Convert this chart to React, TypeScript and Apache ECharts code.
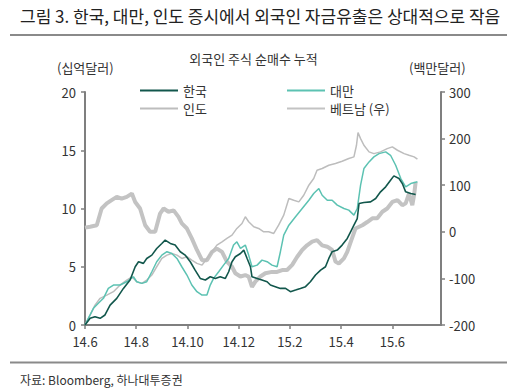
import React, { useEffect, useRef } from "react";
import * as echarts from "echarts";

// x = months since Jun 2014 (0 = 14.6)
const xTickLabels = ["14.6", "14.8", "14.10", "14.12", "15.2", "15.4", "15.6"];

const korea: [number, number][] = [
  [0, 0], [0.2, 0.57], [0.39, 0.71], [0.59, 0.57], [0.78, 0.86], [0.98, 1.71], [1.24, 2.29], [1.5, 3.14],
  [1.76, 3.86], [1.96, 5.0], [2.09, 5.43], [2.28, 5.29], [2.41, 5.71], [2.61, 6.0], [2.8, 6.57], [3.0, 7.0],
  [3.13, 7.29], [3.33, 7.0], [3.52, 6.86], [3.72, 6.29], [3.91, 6.0], [4.11, 5.43], [4.3, 4.71], [4.5, 4.0],
  [4.7, 3.86], [4.89, 4.14], [5.09, 4.0], [5.28, 4.14], [5.48, 4.0], [5.61, 4.57], [5.74, 5.43], [5.87, 5.86],
  [6.07, 6.14], [6.2, 6.43], [6.33, 5.71], [6.46, 5.0], [6.52, 4.14], [6.72, 4.0], [6.91, 3.86], [7.11, 3.71],
  [7.24, 3.43], [7.43, 3.29], [7.63, 3.14], [7.83, 3.14], [8.02, 2.86], [8.22, 3.0], [8.41, 3.14], [8.61, 3.29],
  [8.8, 3.71], [9.0, 4.29], [9.2, 4.71], [9.39, 5.0], [9.52, 5.71], [9.65, 6.29], [9.85, 6.43], [10.04, 6.86],
  [10.24, 7.43], [10.37, 8.0], [10.5, 8.57], [10.63, 9.14], [10.7, 10.43], [10.89, 10.51], [11.15, 10.57],
  [11.35, 10.86], [11.54, 11.43], [11.74, 11.86], [11.93, 12.43], [12.06, 12.8], [12.26, 12.57], [12.39, 12.14],
  [12.52, 11.43], [12.72, 11.29], [12.91, 11.2],
];

const taiwan: [number, number][] = [
  [0, 0], [0.13, 0.57], [0.33, 1.43], [0.52, 1.86], [0.72, 2.29], [0.91, 3.14], [1.11, 3.43], [1.37, 3.43],
  [1.63, 3.71], [1.89, 4.14], [2.02, 3.71], [2.22, 3.57], [2.41, 3.71], [2.61, 4.57], [2.8, 5.43], [3.0, 6.0],
  [3.2, 6.29], [3.39, 6.14], [3.59, 5.71], [3.78, 5.0], [3.98, 4.29], [4.17, 3.43], [4.37, 2.86], [4.57, 2.57],
  [4.76, 2.57], [4.89, 3.43], [5.02, 4.0], [5.22, 4.57], [5.41, 5.14], [5.61, 5.71], [5.8, 6.86], [5.93, 7.14],
  [6.07, 6.57], [6.26, 6.86], [6.39, 6.0], [6.52, 5.0], [6.72, 5.14], [6.91, 5.57], [7.11, 5.43], [7.3, 5.14],
  [7.5, 5.0], [7.63, 6.29], [7.76, 7.71], [7.96, 8.57], [8.22, 9.29], [8.48, 10.0], [8.74, 10.71], [8.93, 11.29],
  [9.13, 11.71], [9.26, 11.14], [9.46, 10.71], [9.65, 10.71], [9.85, 10.29], [10.11, 10.0], [10.3, 9.86],
  [10.5, 9.43], [10.63, 10.0], [10.76, 12.0], [10.89, 13.43], [11.09, 14.0], [11.28, 14.43], [11.48, 14.71],
  [11.74, 14.86], [11.93, 14.57], [12.13, 13.71], [12.33, 12.57], [12.52, 11.86], [12.72, 12.14], [12.98, 12.29],
];

const india: [number, number][] = [
  [0, 0], [0.2, 0.86], [0.39, 1.71], [0.59, 2.29], [0.85, 2.57], [1.11, 2.86], [1.37, 3.43], [1.63, 3.86],
  [1.83, 4.14], [2.02, 3.71], [2.22, 3.57], [2.41, 3.86], [2.61, 4.29], [2.8, 5.0], [3.0, 5.71], [3.2, 6.0],
  [3.39, 6.14], [3.59, 6.0], [3.78, 5.71], [3.98, 5.86], [4.17, 5.57], [4.37, 5.29], [4.57, 5.14], [4.76, 5.71],
  [4.96, 6.29], [5.15, 6.86], [5.35, 7.14], [5.54, 7.43], [5.74, 7.71], [5.93, 8.29], [6.13, 8.71], [6.26, 9.29],
  [6.39, 8.86], [6.59, 8.43], [6.78, 8.29], [6.98, 8.0], [7.17, 8.0], [7.37, 7.86], [7.56, 8.57], [7.76, 9.43],
  [7.96, 10.86], [8.15, 10.71], [8.35, 10.57], [8.54, 11.14], [8.74, 12.0], [8.93, 12.57], [9.06, 13.29],
  [9.26, 13.43], [9.52, 13.71], [9.78, 13.86], [10.04, 14.06], [10.3, 14.29], [10.5, 14.43], [10.6, 15.43],
  [10.66, 16.51], [10.76, 16.0], [10.89, 15.43], [11.09, 14.86], [11.28, 14.71], [11.54, 14.86], [11.8, 15.14],
  [12.0, 15.29], [12.2, 15.0], [12.46, 14.71], [12.65, 14.57], [12.85, 14.43], [12.98, 14.23],
];

const vietnam: [number, number][] = [
  [0, 9], [0.2, 11], [0.46, 14], [0.65, 50], [0.85, 61], [1.04, 68], [1.24, 75], [1.43, 71], [1.63, 75],
  [1.83, 82], [1.96, 64], [2.15, 50], [2.35, 14], [2.54, 0], [2.74, 0], [2.93, 39], [3.07, 50], [3.26, 43],
  [3.46, 46], [3.65, 32], [3.78, 18], [3.98, 7], [4.17, -14], [4.37, -39], [4.57, -61], [4.76, -61], [4.96, -43],
  [5.15, -36], [5.35, -43], [5.54, -64], [5.74, -75], [5.87, -89], [6.07, -96], [6.26, -93], [6.39, -96],
  [6.52, -118], [6.65, -107], [6.85, -96], [7.04, -89], [7.3, -86], [7.5, -86], [7.7, -82], [7.89, -82],
  [8.09, -71], [8.28, -54], [8.48, -39], [8.67, -29], [8.87, -21], [9.06, -18], [9.26, -29], [9.46, -32],
  [9.65, -39], [9.78, -64], [9.91, -68], [10.11, -57], [10.24, -43], [10.4, -18], [10.56, 7], [10.83, 14],
  [11.02, 21], [11.22, 29], [11.41, 29], [11.61, 43], [11.8, 50], [12.0, 64], [12.2, 68], [12.39, 57],
  [12.52, 61], [12.65, 82], [12.78, 57], [12.85, 79], [12.91, 107],
];

const FONT = "'Noto Sans CJK KR', 'Noto Sans', sans-serif";
const AXIS_COLOR = "#7f7f7f";
const TEXT_COLOR = "#333333";

export default function App() {
  const ref = useRef<HTMLDivElement>(null);
  useEffect(() => {
    document.body.style.margin = "0";
    if (!ref.current) return;
    const chart = echarts.init(ref.current, undefined, { renderer: "svg" });
    const axisCommon = {
      axisLine: { show: true, lineStyle: { color: AXIS_COLOR, width: 2 } },
      axisTick: { show: true, length: 4, lineStyle: { color: AXIS_COLOR, width: 1.5 } },
      splitLine: { show: false },
      axisLabel: { color: TEXT_COLOR, fontSize: 13, fontFamily: FONT },
    };
    const legendCommon = {
      top: 79,
      orient: "vertical",
      itemWidth: 38,
      itemHeight: 14,
      itemGap: 5,
      itemStyle: { opacity: 0 },
      textStyle: { color: TEXT_COLOR, fontSize: 13, fontFamily: FONT },
    };
    chart.setOption({
      animation: false,
      backgroundColor: "#ffffff",
      textStyle: { fontFamily: FONT },
      grid: { left: 85, right: 66, top: 92, bottom: 65, containLabel: false },
      xAxis: {
        type: "value",
        min: 0,
        max: 13.9,
        interval: 2,
        ...axisCommon,
        axisLabel: {
          ...axisCommon.axisLabel,
          margin: 10,
          showMaxLabel: false,
          formatter: (v: number) => xTickLabels[Math.round(v / 2)] ?? "",
        },
      },
      yAxis: [
        {
          type: "value",
          min: 0,
          max: 20,
          interval: 5,
          position: "left",
          ...axisCommon,
          axisLabel: { ...axisCommon.axisLabel, margin: 9 },
        },
        {
          type: "value",
          min: -200,
          max: 300,
          interval: 100,
          position: "right",
          ...axisCommon,
          axisLabel: { ...axisCommon.axisLabel, margin: 8 },
        },
      ],
      legend: [
        { ...legendCommon, left: 134, data: ["한국", "인도"] },
        { ...legendCommon, left: 281, data: ["대만", "베트남 (우)"] },
      ],
      series: [
        {
          name: "인도",
          type: "line",
          data: india,
          showSymbol: false,
          symbol: "none",
          lineStyle: { color: "#bdbdbd", width: 1.5 },
          itemStyle: { color: "#bdbdbd" },
          z: 2,
        },
        {
          name: "베트남 (우)",
          type: "line",
          yAxisIndex: 1,
          data: vietnam,
          showSymbol: false,
          symbol: "none",
          lineStyle: { color: "#c3c3c3", width: 4 },
          itemStyle: { color: "#c3c3c3" },
          z: 1,
        },
        {
          name: "대만",
          type: "line",
          data: taiwan,
          showSymbol: false,
          symbol: "none",
          lineStyle: { color: "#5cc2b2", width: 1.5 },
          itemStyle: { color: "#5cc2b2" },
          z: 3,
        },
        {
          name: "한국",
          type: "line",
          data: korea,
          showSymbol: false,
          symbol: "none",
          lineStyle: { color: "#12574c", width: 1.6 },
          itemStyle: { color: "#12574c" },
          z: 4,
        },
      ],
      graphic: [
        {
          type: "text",
          left: 20,
          top: 7,
          style: {
            text: "그림 3. 한국, 대만, 인도 증시에서 외국인 자금유출은 상대적으로 작음",
            fontSize: 17,
            fontFamily: FONT,
            fill: "#222222",
          },
        },
        {
          type: "line",
          shape: { x1: 10, y1: 35, x2: 507, y2: 35 },
          style: { stroke: "#8a8a8a", lineWidth: 2 },
        },
        {
          type: "text",
          left: "center",
          top: 52,
          style: { text: "외국인 주식 순매수 누적", fontSize: 13, fontFamily: FONT, fill: TEXT_COLOR },
        },
        {
          type: "text",
          left: 57,
          top: 61,
          style: { text: "(십억달러)", fontSize: 13, fontFamily: FONT, fill: TEXT_COLOR },
        },
        {
          type: "text",
          left: 409,
          top: 61,
          style: { text: "(백만달러)", fontSize: 13, fontFamily: FONT, fill: TEXT_COLOR },
        },
        {
          type: "line",
          shape: { x1: 10, y1: 362.5, x2: 507, y2: 362.5 },
          style: { stroke: "#8a8a8a", lineWidth: 2 },
        },
        {
          type: "text",
          left: 20,
          top: 373,
          style: { text: "자료: Bloomberg, 하나대투증권", fontSize: 12, fontFamily: FONT, fill: TEXT_COLOR },
        },
      ],
    });
    return () => chart.dispose();
  }, []);
  return <div ref={ref} style={{ width: 507, height: 390 }} />;
}
